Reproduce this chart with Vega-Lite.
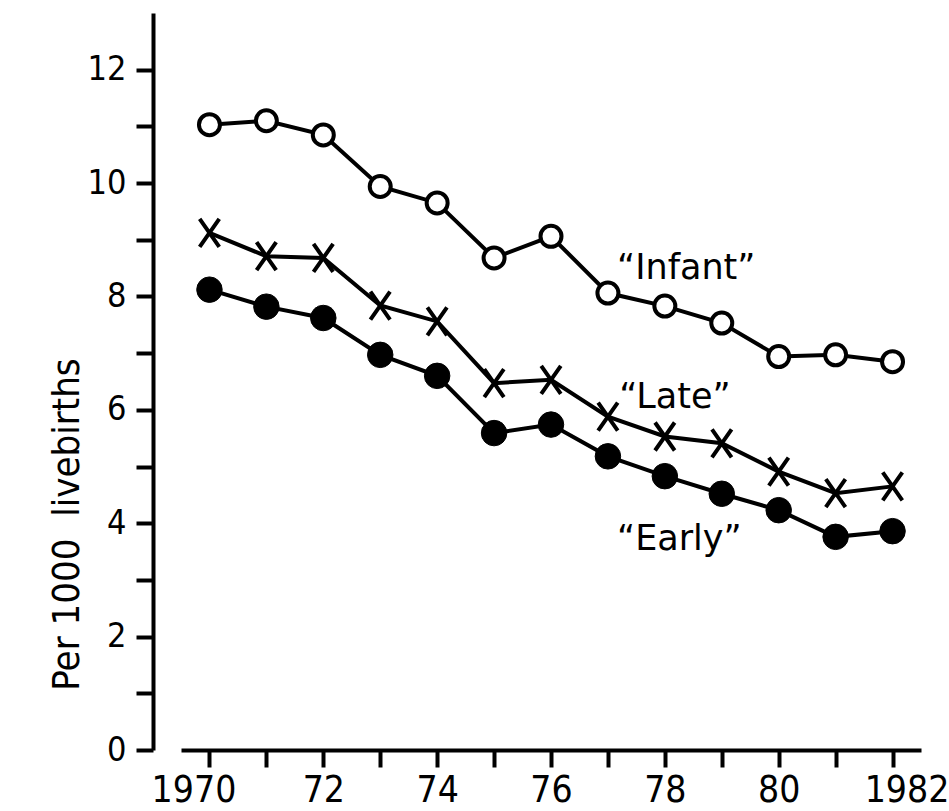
{
  "$schema": "https://vega.github.io/schema/vega-lite/v6.json",
  "width": 740,
  "height": 737,
  "autosize": {"type": "none"},
  "padding": {"left": 181, "top": 13, "right": 28, "bottom": 61},
  "background": "white",
  "config": {"view": {"stroke": null}, "axis": {"grid": false}},
  "datasets": {
    "rates": [
      {"year": 1970, "series": "Infant", "value": 11.03},
      {"year": 1971, "series": "Infant", "value": 11.10},
      {"year": 1972, "series": "Infant", "value": 10.85},
      {"year": 1973, "series": "Infant", "value": 9.94},
      {"year": 1974, "series": "Infant", "value": 9.65},
      {"year": 1975, "series": "Infant", "value": 8.68},
      {"year": 1976, "series": "Infant", "value": 9.06},
      {"year": 1977, "series": "Infant", "value": 8.06},
      {"year": 1978, "series": "Infant", "value": 7.83},
      {"year": 1979, "series": "Infant", "value": 7.53},
      {"year": 1980, "series": "Infant", "value": 6.94},
      {"year": 1981, "series": "Infant", "value": 6.97},
      {"year": 1982, "series": "Infant", "value": 6.85},
      {"year": 1970, "series": "Late", "value": 9.12},
      {"year": 1971, "series": "Late", "value": 8.71},
      {"year": 1972, "series": "Late", "value": 8.68},
      {"year": 1973, "series": "Late", "value": 7.84},
      {"year": 1974, "series": "Late", "value": 7.56},
      {"year": 1975, "series": "Late", "value": 6.47},
      {"year": 1976, "series": "Late", "value": 6.53},
      {"year": 1977, "series": "Late", "value": 5.88},
      {"year": 1978, "series": "Late", "value": 5.53},
      {"year": 1979, "series": "Late", "value": 5.41},
      {"year": 1980, "series": "Late", "value": 4.91},
      {"year": 1981, "series": "Late", "value": 4.53},
      {"year": 1982, "series": "Late", "value": 4.65},
      {"year": 1970, "series": "Early", "value": 8.12},
      {"year": 1971, "series": "Early", "value": 7.82},
      {"year": 1972, "series": "Early", "value": 7.62},
      {"year": 1973, "series": "Early", "value": 6.97},
      {"year": 1974, "series": "Early", "value": 6.60},
      {"year": 1975, "series": "Early", "value": 5.59},
      {"year": 1976, "series": "Early", "value": 5.74},
      {"year": 1977, "series": "Early", "value": 5.18},
      {"year": 1978, "series": "Early", "value": 4.83},
      {"year": 1979, "series": "Early", "value": 4.52},
      {"year": 1980, "series": "Early", "value": 4.23},
      {"year": 1981, "series": "Early", "value": 3.76},
      {"year": 1982, "series": "Early", "value": 3.86}
    ],
    "labels": [
      {"x": 1977.16, "y": 8.31, "text": "“Infant”"},
      {"x": 1977.2, "y": 6.03, "text": "“Late”"},
      {"x": 1977.16, "y": 3.53, "text": "“Early”"}
    ]
  },
  "layer": [
    {
      "data": {"name": "rates"},
      "mark": {"type": "line", "color": "black", "strokeWidth": 4},
      "encoding": {
        "x": {
          "field": "year",
          "type": "quantitative",
          "scale": {"domain": [1969.5, 1982.5], "nice": false, "zero": false},
          "axis": {
            "title": null,
            "values": [1970, 1971, 1972, 1973, 1974, 1975, 1976, 1977, 1978, 1979, 1980, 1981, 1982],
            "labelExpr": "datum.value % 2 == 0 ? ((datum.value == 1970 || datum.value == 1982) ? '' + datum.value : '' + (datum.value - 1900)) : ''",
            "domainColor": "black",
            "domainWidth": 4,
            "tickColor": "black",
            "tickWidth": 4,
            "tickSize": 17,
            "labelFont": "DejaVu Sans Condensed, Liberation Sans Narrow, DejaVu Sans",
            "labelFontSize": 37,
            "labelColor": "black",
            "labelPadding": 5,
            "labelFlush": false,
            "labelOverlap": false,
            "labelOffset": {
              "condition": [
                {"test": "datum.value == 1970", "value": -16},
                {"test": "datum.value == 1982", "value": 14}
              ],
              "value": 0
            }
          }
        },
        "y": {
          "field": "value",
          "type": "quantitative",
          "scale": {"domain": [0, 13], "nice": false, "zero": true},
          "axis": {
            "values": [0, 1, 2, 3, 4, 5, 6, 7, 8, 9, 10, 11, 12],
            "labelExpr": "datum.value % 2 == 0 ? '' + datum.value : ''",
            "offset": 28,
            "domainColor": "black",
            "domainWidth": 4,
            "tickColor": "black",
            "tickWidth": 4,
            "tickSize": 17,
            "labelFont": "DejaVu Sans Condensed, Liberation Sans Narrow, DejaVu Sans",
            "labelFontSize": 34,
            "labelColor": "black",
            "labelPadding": 10,
            "labelFlush": false,
            "labelOverlap": false,
            "title": "Per 1000\u00a0 livebirths",
            "titleFont": "DejaVu Sans Condensed, DejaVu Sans",
            "titleFontSize": 38,
            "titleFontWeight": "normal",
            "titleColor": "black",
            "titleAngle": -90,
            "titleX": -75,
            "titleY": 511,
            "titleAlign": "center",
            "titleBaseline": "alphabetic"
          }
        },
        "detail": {"field": "series"}
      }
    },
    {
      "data": {"name": "rates"},
      "transform": [{"filter": "datum.series == 'Early'"}],
      "mark": {"type": "point", "shape": "circle", "filled": true, "fill": "black", "stroke": "black", "strokeWidth": 1, "size": 650, "opacity": 1},
      "encoding": {
        "x": {"field": "year", "type": "quantitative"},
        "y": {"field": "value", "type": "quantitative"}
      }
    },
    {
      "data": {"name": "rates"},
      "transform": [{"filter": "datum.series == 'Infant'"}],
      "mark": {"type": "point", "shape": "circle", "filled": true, "fill": "white", "stroke": "black", "strokeWidth": 4, "size": 441, "opacity": 1},
      "encoding": {
        "x": {"field": "year", "type": "quantitative"},
        "y": {"field": "value", "type": "quantitative"}
      }
    },
    {
      "data": {"name": "rates"},
      "transform": [{"filter": "datum.series == 'Late'"}],
      "mark": {"type": "point", "shape": "M-0.7,-1L0.7,1M0.7,-1L-0.7,1", "filled": false, "stroke": "black", "strokeWidth": 4, "size": 784, "opacity": 1},
      "encoding": {
        "x": {"field": "year", "type": "quantitative"},
        "y": {"field": "value", "type": "quantitative"}
      }
    },
    {
      "data": {"name": "labels"},
      "mark": {"type": "text", "align": "left", "baseline": "alphabetic", "font": "DejaVu Sans", "fontSize": 35, "color": "black"},
      "encoding": {
        "x": {"field": "x", "type": "quantitative"},
        "y": {"field": "y", "type": "quantitative"},
        "text": {"field": "text"}
      }
    }
  ]
}
